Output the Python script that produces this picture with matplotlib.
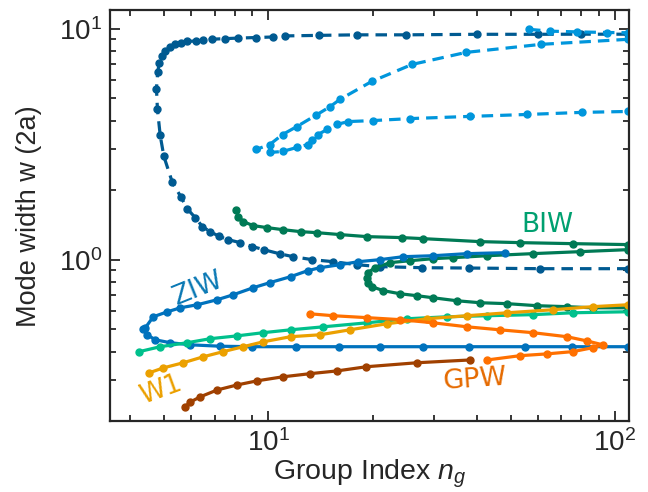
import matplotlib
matplotlib.use('Agg')
import matplotlib.pyplot as plt
from matplotlib.ticker import LogLocator, NullFormatter

plt.rcParams['font.family'] = ['Liberation Sans', 'DejaVu Sans']
plt.rcParams['mathtext.fontset'] = 'custom'
plt.rcParams['mathtext.it'] = 'Liberation Sans:italic'
plt.rcParams['mathtext.rm'] = 'Liberation Sans'

# ZIW, second (dashed) branch
ziw2_x = [109, 80, 60, 40, 25, 18, 14, 11.2, 10.3, 9.2, 8.2, 7.5, 6.9, 6.5, 6.2, 5.85, 5.6, 5.4, 5.2,
          5.05, 4.95, 4.85, 4.8, 4.76, 4.79, 4.88, 5.0, 5.29, 5.61, 5.84, 6.16, 6.46, 6.81, 7.23, 7.67,
          8.3, 9.0, 9.7, 10.8, 11.8, 13.4, 15.4, 18, 21, 27.8, 38, 60.8, 109]
ziw2_y = [9.46, 9.46, 9.45, 9.45, 9.4, 9.4, 9.35, 9.3, 9.2, 9.15, 9.1, 9.05, 9.0, 8.9, 8.85, 8.8, 8.7, 8.55, 8.35,
          8.0, 7.6, 7.1, 6.5, 5.5, 4.5, 3.45, 2.8, 2.16, 1.86, 1.66, 1.52, 1.39, 1.32, 1.26, 1.22,
          1.185, 1.14, 1.105, 1.06, 1.03, 1.0, 0.98, 0.951, 0.933, 0.923, 0.92, 0.914, 0.914]

# ZIW, main branch
ziw_x = [48.2, 37.5, 29.9, 24.5, 21.0, 18.2, 16.1, 14.1, 13.0, 11.6, 10.1, 9.05, 7.93, 7.13, 6.24, 5.58,
         5.12, 4.66, 4.42, 4.36, 4.48, 4.72, 5.22, 5.96, 7.27, 9.0, 12, 16, 21, 28, 38, 55, 75, 109]
ziw_y = [1.072, 1.062, 1.04, 1.03, 1.0, 0.98, 0.951, 0.923, 0.896, 0.844, 0.795, 0.756, 0.705, 0.671, 0.638, 0.619,
         0.595, 0.566, 0.507, 0.502, 0.473, 0.45, 0.437, 0.428, 0.422, 0.42, 0.42, 0.42, 0.42, 0.42, 0.42, 0.42, 0.42, 0.42]

# light blue loop
lb_x = [109, 61.2, 37.2, 26.0, 19.9, 16.1, 15.1, 13.7, 12.1, 11.0, 10.1, 9.23, 10.1, 11.0, 12.1, 13.0,
        13.4, 13.9, 14.8, 15.8, 17.0, 20.1, 25.7, 38.2, 55.7, 80.3, 109]
lb_y = [8.99, 8.55, 7.89, 7.0, 5.91, 4.94, 4.60, 4.21, 3.77, 3.48, 3.15, 3.0, 2.91, 2.94, 3.06, 3.15,
        3.31, 3.48, 3.66, 3.85, 3.96, 4.0, 4.08, 4.17, 4.25, 4.34, 4.38]
lb2_x = [56.5, 65, 78, 95, 109]
lb2_y = [9.93, 9.75, 9.68, 9.62, 9.6]

# BIW
biw_x = [8.09, 8.19, 8.47, 9.05, 9.93, 11.0, 12.4, 13.8, 16.1, 19.3, 24.3, 28.0, 40.8, 53.2, 75.7, 109]
biw_y = [1.647, 1.536, 1.461, 1.404, 1.376, 1.349, 1.322, 1.309, 1.284, 1.258, 1.246, 1.233, 1.197, 1.185, 1.173, 1.162]
biw2_x = [109, 79.3, 58.0, 42.8, 34.1, 29.9, 25.7, 22.5, 20.3, 19.4, 19.3, 19.4, 19.9, 21.5, 24.0,
          26.9, 29.9, 35.0, 40.8, 48.9, 59.6, 72.7, 86.4, 109]
biw2_y = [1.105, 1.083, 1.062, 1.04, 1.02, 1.01, 0.99, 0.971, 0.923, 0.878, 0.836, 0.795, 0.764, 0.734, 0.712,
          0.698, 0.684, 0.664, 0.651, 0.645, 0.632, 0.626, 0.619, 0.619]

# mint branch
mint_x = [4.25, 4.88, 5.84, 6.81, 8.14, 9.67, 11.6, 14.4, 19.3, 25.2, 32.8, 42.8, 58.0, 75.7, 109]
mint_y = [0.400, 0.420, 0.437, 0.455, 0.468, 0.483, 0.497, 0.512, 0.533, 0.555, 0.566, 0.572, 0.578, 0.589, 0.595]

# W1
w1_x = [4.54, 4.98, 5.69, 6.50, 7.42, 8.47, 9.67, 11.6, 14.1, 17.2, 22.0, 28.7, 37.5, 48.9, 66.2, 86.4, 109]
w1_y = [0.324, 0.340, 0.358, 0.380, 0.400, 0.420, 0.441, 0.464, 0.473, 0.497, 0.528, 0.555, 0.572, 0.589, 0.607, 0.626, 0.638]

# brown branch
br_x = [5.77, 5.96, 6.37, 7.13, 8.14, 9.30, 11.0, 13.2, 15.8, 19.2, 26.9, 38.2]
br_y = [0.231, 0.242, 0.255, 0.273, 0.287, 0.299, 0.311, 0.321, 0.330, 0.344, 0.358, 0.368]

# GPW
gpw_x = [13.2, 15.4, 19.3, 24.0, 29.9, 37.5, 46.6, 58.0, 72.7, 83.0, 92.3, 86.4, 75.7, 63.7, 53.2, 42.8]
gpw_y = [0.583, 0.572, 0.561, 0.550, 0.533, 0.512, 0.497, 0.483, 0.464, 0.445, 0.428, 0.416, 0.400, 0.391, 0.384, 0.368]

fig = plt.figure(figsize=(6.48, 4.92), dpi=100)
ax = fig.add_axes([0.17, 0.144, 0.8, 0.835])

lw = 2.3
ms = 5
dash = (3.6, 2.2)
ax.plot(ziw2_x, ziw2_y, '--o', color='#005A91', lw=lw, ms=ms, dashes=dash)
ax.plot(lb_x, lb_y, '--o', color='#0096DC', lw=lw, ms=ms, dashes=dash)
ax.plot(lb2_x, lb2_y, '--o', color='#0096DC', lw=lw, ms=ms, dashes=dash)
ax.plot(biw_x, biw_y, '-o', color='#007A55', lw=lw, ms=ms)
ax.plot(biw2_x, biw2_y, '-o', color='#007A55', lw=lw, ms=ms)
ax.plot(ziw_x, ziw_y, '-o', color='#0072BD', lw=lw, ms=ms)
ax.plot(mint_x, mint_y, '-o', color='#00C08C', lw=lw, ms=ms)
ax.plot(w1_x, w1_y, '-o', color='#EBA000', lw=lw, ms=ms)
ax.plot(br_x, br_y, '-o', color='#A04000', lw=lw, ms=ms)
ax.plot(gpw_x, gpw_y, '-o', color='#FF7000', lw=lw, ms=ms)

ax.text(63.7, 1.418, 'BIW', color='#00A070', fontsize=19, family='DejaVu Sans', ha='center', va='center')
ax.text(6.28, 0.749, 'ZIW', color='#0A78B4', fontsize=19, family='DejaVu Sans', ha='center', va='center', rotation=22)
ax.text(4.89, 0.273, 'W1', color='#EBA000', fontsize=19, family='DejaVu Sans', ha='center', va='center', rotation=20)
ax.text(39.5, 0.302, 'GPW', color='#E56A00', fontsize=19.5, family='DejaVu Sans', ha='center', va='center', rotation=4)

ax.set_xscale('log')
ax.set_yscale('log')
ax.set_xlim(3.5, 109.5)
ax.set_ylim(0.2, 12)
ax.xaxis.set_major_locator(LogLocator(base=10, numticks=10))
ax.yaxis.set_major_locator(LogLocator(base=10, numticks=10))
ax.xaxis.set_minor_formatter(NullFormatter())
ax.yaxis.set_minor_formatter(NullFormatter())
ax.tick_params(which='both', direction='in', top=True, right=True, colors='#262626', labelsize=20, width=1.3)
ax.tick_params(which='major', length=7, pad=6)
ax.tick_params(which='minor', length=4)
for s in ax.spines.values():
    s.set_linewidth(1.6)
    s.set_color('#262626')

ax.set_xlabel('Group Index $n_g$', fontsize=20.5, color='#262626', labelpad=0)
ax.set_ylabel('Mode width w (2a)', fontsize=19.5, color='#262626', labelpad=12)

fig.savefig('out.png', dpi=100)
